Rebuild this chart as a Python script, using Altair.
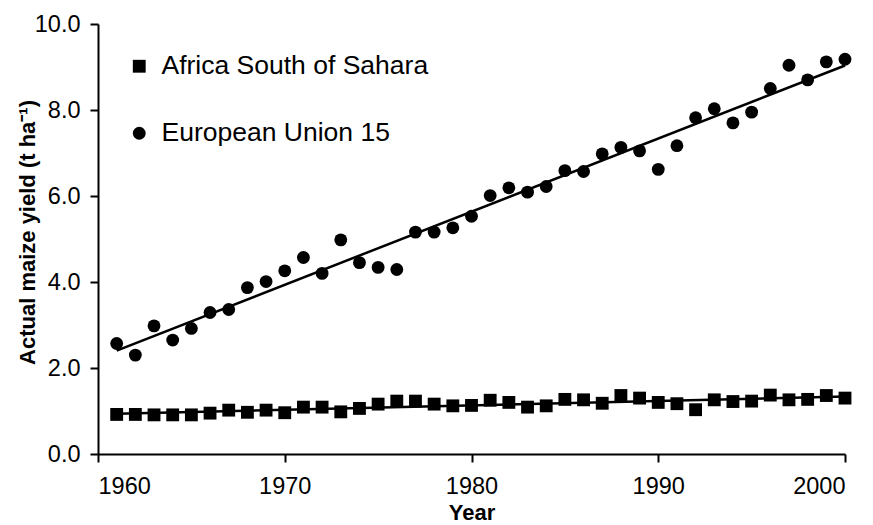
import altair as alt
import pandas as pd

years = list(range(1961, 2001))
africa = [0.92, 0.92, 0.91, 0.91, 0.91, 0.95, 1.02, 0.97, 1.02, 0.96,
          1.09, 1.09, 0.98, 1.06, 1.16, 1.23, 1.23, 1.16, 1.12, 1.13,
          1.25, 1.20, 1.09, 1.12, 1.27, 1.26, 1.18, 1.36, 1.30, 1.20,
          1.17, 1.03, 1.26, 1.22, 1.23, 1.37, 1.26, 1.27, 1.36, 1.30]
eu = [2.57, 2.30, 2.98, 2.65, 2.92, 3.29, 3.36, 3.87, 4.01, 4.26,
      4.57, 4.20, 4.98, 4.45, 4.34, 4.29, 5.16, 5.16, 5.26, 5.53,
      6.01, 6.19, 6.09, 6.22, 6.59, 6.57, 6.98, 7.13, 7.05, 6.62,
      7.17, 7.82, 8.03, 7.70, 7.95, 8.50, 9.04, 8.70, 9.12, 9.18]
series_names = ["Africa South of Sahara", "European Union 15"]
x_ticks = [1960, 1970, 1980, 1990, 2000]
y_ticks = [0, 2, 4, 6, 8, 10]

df = pd.DataFrame({
    "Year": years + years,
    "Yield": africa + eu,
    "Series": [series_names[0]] * len(years) + [series_names[1]] * len(years),
})

FONT = "Liberation Sans"

x_enc = alt.X("Year:Q",
              scale=alt.Scale(domain=[1960, 2000], nice=False, zero=False),
              axis=alt.Axis(values=x_ticks, format="d", title="Year", grid=False,
                            labelPadding=12.5, titleY=65,
                            titleBaseline="alphabetic"))
y_enc = alt.Y("Yield:Q",
              scale=alt.Scale(domain=[0, 10], nice=False),
              axis=alt.Axis(values=y_ticks, format=".1f",
                            title="Actual maize yield (t ha⁻¹)", grid=False,
                            labelPadding=10, titleX=-71, titleY=208,
                            titleBaseline="middle"))

base = alt.Chart(df)

lines = base.transform_regression(
    "Year", "Yield", groupby=["Series"]
).mark_line(color="black", strokeWidth=2.5).encode(
    x=alt.X("Year:Q"), y=alt.Y("Yield:Q"), detail="Series:N"
)

points = base.mark_point(filled=True, color="black", opacity=1, size=165).encode(
    x=x_enc,
    y=y_enc,
    shape=alt.Shape("Series:N",
                    scale=alt.Scale(domain=series_names, range=["square", "circle"]),
                    legend=alt.Legend(title=None, orient="none", legendX=28, legendY=29)),
)

chart = alt.layer(lines, points).properties(
    width=747,
    height=430,
    autosize=alt.AutoSizeParams(type="none"),
    padding={"left": 90, "top": 16, "right": 20, "bottom": 71},
).configure_view(stroke=None).configure_axis(
    labelFont=FONT, labelFontSize=23.5, labelColor="black",
    titleFont=FONT, titleFontSize=22, titleFontWeight="bold", titleColor="black",
    domainColor="black", domainWidth=2, tickColor="black", tickWidth=2, tickSize=8,
).configure_legend(
    labelFont=FONT, labelFontSize=26.5, labelColor="black", labelLimit=0,
    symbolSize=165, symbolFillColor="black", symbolStrokeWidth=0,
    rowPadding=40, labelOffset=9, padding=0,
)

chart.save("out.html", embed_options={"renderer": "svg", "actions": False})
